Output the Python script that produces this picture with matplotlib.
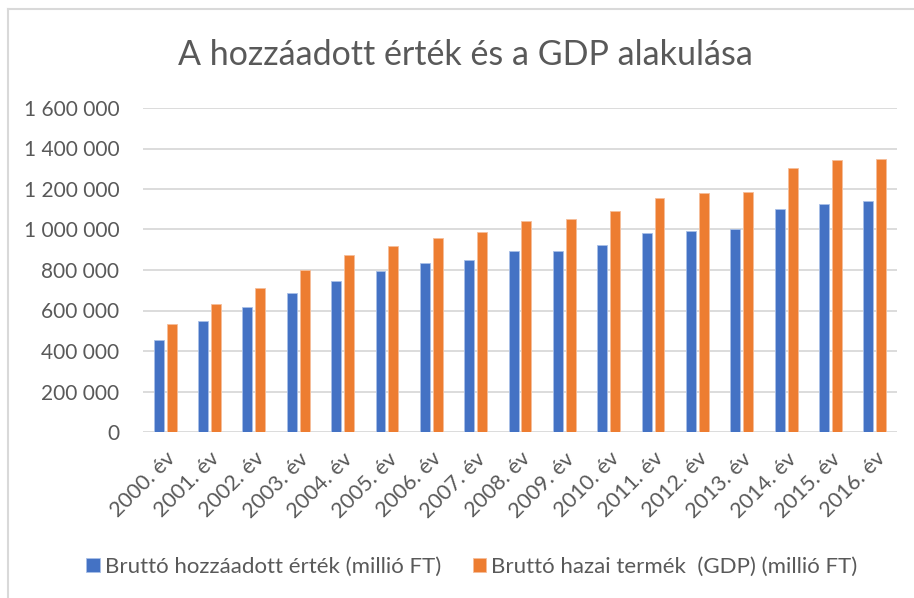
import numpy as np
import matplotlib.pyplot as plt
from matplotlib.lines import Line2D
from matplotlib.ticker import FuncFormatter

plt.rcParams['font.family'] = ['Lato', 'DejaVu Sans']

# Data (millió Ft)
years = [f"{y}. év" for y in range(2000, 2017)]
value_added = [453000, 546000, 616000, 688000, 747000, 793000, 833000, 849000, 892000,
               895000, 925000, 983000, 993000, 1001000, 1100000, 1128000, 1139000]
gdp = [532000, 634000, 709000, 802000, 876000, 920000, 960000, 986000, 1044000,
       1052000, 1093000, 1157000, 1182000, 1185000, 1304000, 1342000, 1346000]
series_labels = ["Bruttó hozzáadott érték (millió FT)", "Bruttó hazai termék  (GDP) (millió FT)"]

blue, orange = "#4472C4", "#ED7D31"
grey_txt = "#595959"

fig = plt.figure(figsize=(9.14, 5.98), dpi=100)
ax = fig.add_axes([143 / 914, 1 - 432 / 598, (897 - 143) / 914, (432 - 108) / 598])

x = np.arange(len(years))
w = 0.225
ax.bar(x - 0.145, value_added, w, color=blue, edgecolor="#A9C0E8", linewidth=0.6,
       label=series_labels[0], zorder=3)
ax.bar(x + 0.145, gdp, w, color=orange, edgecolor="#F6BE9A", linewidth=0.6,
       label=series_labels[1], zorder=3)

ax.set_xlim(-0.5, len(years) - 0.5)
ax.set_ylim(0, 1600000)
ax.set_yticks(np.arange(0, 1600001, 200000))
ax.yaxis.set_major_formatter(FuncFormatter(lambda v, p: f"{int(v):,}".replace(",", " ")))
ax.grid(axis="y", color="#D9D9D9", linewidth=1.3, zorder=0)
for s in ax.spines.values():
    s.set_visible(False)
ax.tick_params(axis="both", length=0, labelsize=15.5, labelcolor=grey_txt)
ax.tick_params(axis="y", labelsize=15, pad=17)
ax.set_xticks(x)
ax.set_xticklabels(years, rotation=45, ha="right", rotation_mode="anchor")
ax.tick_params(axis="x", pad=12)

fig.text(465 / 914, 1 - 55 / 598, "A hozzáadott érték és a GDP alakulása", ha="center", va="center",
         fontsize=24.5, color=grey_txt)

leg = fig.legend(loc="center", bbox_to_anchor=(472 / 914, 1 - 567 / 598), ncol=2, frameon=False,
                 fontsize=16, handlelength=0.6, handleheight=0.6, handletextpad=0.25,
                 columnspacing=1.4)
for t in leg.get_texts():
    t.set_color(grey_txt)

# chart area border (cropped on right and bottom)
fig.add_artist(Line2D([8 / 914, 1], [1 - 9 / 598, 1 - 9 / 598], color="#D9D9D9", linewidth=1.5,
                      transform=fig.transFigure))
fig.add_artist(Line2D([8 / 914, 8 / 914], [0, 1 - 9 / 598], color="#D9D9D9", linewidth=1.5,
                      transform=fig.transFigure))

fig.savefig("out.png", dpi=100)
